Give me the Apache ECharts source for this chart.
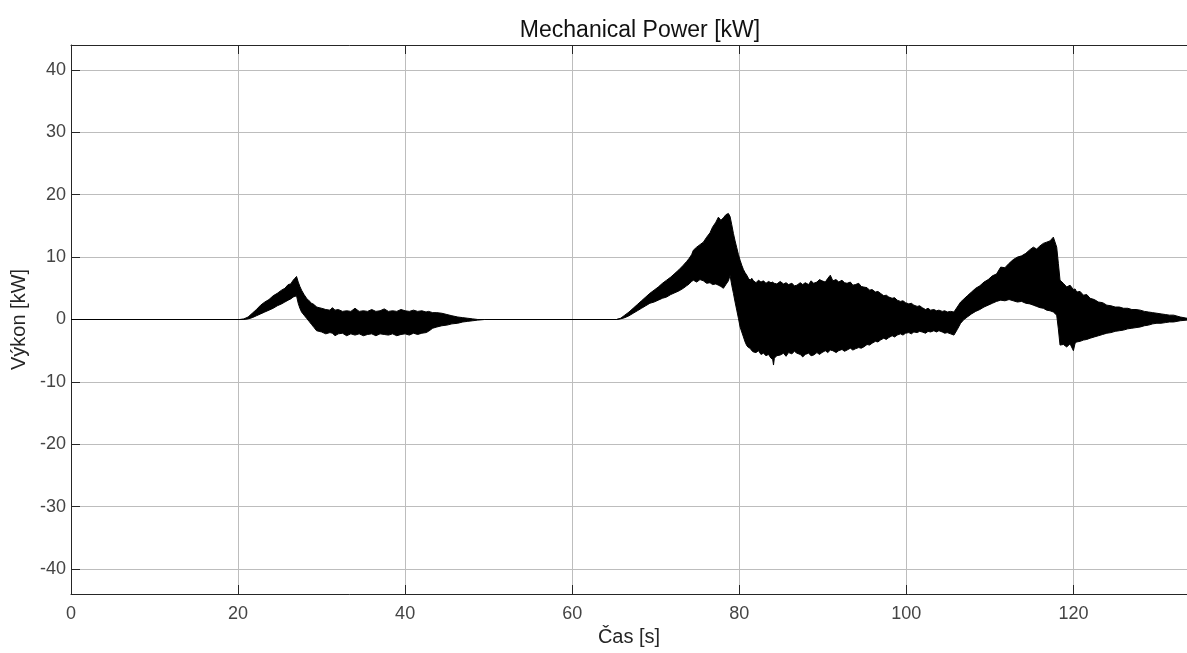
<!DOCTYPE html>
<html>
<head>
<meta charset="utf-8">
<script src="https://cdn.jsdelivr.net/npm/echarts@6/dist/echarts.min.js"></script>
<style>
html,body{margin:0;padding:0;background:#fff;}
#chart{width:1187px;height:653px;}
</style>
</head>
<body>
<div id="chart"></div>
<script>
// Envelope of the oscillating mechanical power, rows: [time s, upper kW, lower kW]
var burst1 = [
  [0,0,0],[20.2,0,0],[20.7,0.1,0],[21.2,0.4,0.1],[21.7,1.0,0.3],[22.2,1.6,0.6],[22.7,2.3,0.9],[23.2,2.8,1.2],
  [23.7,3.2,1.5],[24.2,3.8,1.8],[24.7,4.2,2.2],[25.2,4.7,2.5],[25.6,5.0,2.8],[26.0,5.6,3.1],[26.3,5.7,3.3],
  [26.6,6.3,3.6],[26.8,6.6,3.7],[27.0,6.9,3.8],[27.2,6.0,2.6],[27.4,5.3,1.8],[27.6,4.7,1.2],[27.9,4.0,0.7],
  [28.2,3.4,0.2],[28.5,3.0,-0.3],[28.8,2.6,-0.8],[29.1,2.4,-1.3],[29.4,2.0,-1.8],[29.7,1.9,-1.9],[30.0,1.8,-2.0],
  [30.5,1.6,-2.3],[31.0,1.5,-2.1],[31.3,1.9,-2.2],[31.6,1.5,-2.6],[32.0,1.6,-2.3],[32.5,1.3,-2.2],[33.0,1.4,-2.6],
  [33.5,1.3,-2.3],[34.0,1.8,-2.5],[34.5,1.3,-2.3],[35.0,1.4,-2.6],[35.5,1.3,-2.4],[36.0,1.6,-2.3],[36.5,1.3,-2.6],
  [37.0,1.4,-2.3],[37.5,1.7,-2.4],[38.0,1.3,-2.5],[38.5,1.4,-2.3],[39.0,1.3,-2.6],[39.5,1.6,-2.4],[40.0,1.4,-2.3],
  [40.5,1.3,-2.5],[41.0,1.5,-2.2],[41.5,1.3,-2.4],[42.0,1.4,-2.2],[42.5,1.2,-2.1],[42.8,1.3,-1.9],[43.3,1.1,-1.4],
  [43.8,1.1,-1.2],[44.4,1.0,-1.0],[45.0,0.8,-0.9],[45.6,0.6,-0.7],[46.3,0.4,-0.6],[46.9,0.3,-0.4],[47.5,0.2,-0.3],
  [48.1,0.1,-0.2],[48.7,0,-0.1],[49.5,0,0]
];
var burst2 = [
  [65.3,0,0],[65.8,0.2,0.1],[66.3,0.7,0.3],[66.8,1.2,0.6],[67.3,1.8,1.0],[67.8,2.4,1.4],[68.3,3.0,1.8],[68.8,3.6,2.2],
  [69.3,4.2,2.6],[69.8,4.7,2.8],[70.3,5.2,3.1],[70.8,5.8,3.4],[71.3,6.3,3.6],[71.8,6.8,4.0],[72.3,7.4,4.3],[72.8,8.0,4.6],
  [73.3,8.7,5.0],[73.7,9.3,5.4],[74.0,9.8,5.7],[74.3,10.4,6.1],[74.5,11.1,6.3],[74.9,11.6,6.0],[75.3,12.0,6.4],[75.7,12.4,6.2],
  [76.1,13.2,5.8],[76.5,13.9,5.9],[76.8,14.8,5.6],[77.2,15.6,5.7],[77.5,16.4,5.5],[77.8,15.9,5.3],[78.1,16.3,5.0],[78.4,16.8,5.6],
  [78.7,17.0,6.2],[78.9,16.5,7.1],[79.1,15.2,5.5],[79.3,13.8,4.2],[79.5,12.6,2.8],[79.7,11.5,1.5],[79.9,10.4,0.2],[80.1,9.5,-1.2],
  [80.3,8.7,-2.0],[80.5,8.0,-2.8],[80.7,7.5,-3.6],[80.9,7.1,-4.2],[81.1,6.6,-4.5],[81.3,6.3,-4.6],[81.5,6.6,-5.0],[81.7,6.2,-5.2],
  [82.0,5.9,-5.3],[82.3,6.3,-5.0],[82.6,6.0,-5.6],[82.9,6.2,-5.4],[83.2,5.8,-5.8],[83.5,6.1,-5.6],[83.8,5.9,-6.2],[84.0,6.0,-6.4],
  [84.1,5.9,-7.3],[84.2,5.8,-6.2],[84.5,5.7,-5.8],[84.9,6.1,-5.7],[85.3,5.7,-5.4],[85.6,5.9,-5.9],[85.9,5.6,-5.3],[86.3,5.8,-5.5],
  [86.6,5.4,-5.1],[86.9,5.5,-5.4],[87.3,5.9,-5.6],[87.6,5.6,-6.0],[87.9,5.9,-5.6],[88.3,5.6,-5.4],[88.6,6.2,-5.8],[88.9,5.8,-5.7],
  [89.3,6.0,-5.3],[89.6,6.4,-5.6],[89.9,6.2,-5.3],[90.3,6.0,-5.0],[90.6,6.6,-5.3],[90.9,7.1,-4.9],[91.2,6.2,-5.0],[91.6,6.4,-5.3],
  [91.9,6.0,-5.0],[92.3,6.3,-4.8],[92.6,5.9,-5.1],[92.9,5.8,-4.9],[93.3,6.0,-4.6],[93.6,5.5,-4.9],[93.9,5.6,-4.7],[94.3,5.8,-4.5],
  [94.6,5.3,-4.6],[94.9,5.2,-4.4],[95.3,5.1,-4.0],[95.6,4.7,-4.1],[95.9,4.8,-3.8],[96.3,4.4,-3.5],[96.6,4.5,-3.6],[96.9,4.2,-3.3],
  [97.3,3.8,-3.0],[97.6,3.9,-3.2],[97.9,3.6,-2.9],[98.3,3.4,-2.6],[98.6,3.5,-2.8],[98.9,3.1,-2.5],[99.3,2.9,-2.3],[99.6,3.0,-2.5],
  [99.9,2.7,-2.2],[100.3,2.5,-2.1],[100.6,2.6,-2.3],[100.9,2.3,-2.0],[101.3,2.1,-2.1],[101.6,2.2,-1.9],[101.9,1.9,-2.0],[102.3,1.6,-2.2],
  [102.6,1.8,-1.9],[102.9,1.5,-2.0],[103.3,1.6,-1.8],[103.6,1.4,-2.0],[103.9,1.5,-1.8],[104.3,1.3,-2.0],[104.6,1.4,-2.2],[104.9,1.2,-2.1],
  [105.3,1.3,-2.3],[105.7,1.2,-2.5]
];
var burst3 = [
  [106.1,2.0,-1.6],[106.5,2.8,-0.6],[106.9,3.3,0.0],[107.3,3.8,0.4],[107.8,4.4,0.9],[108.3,5.0,1.3],[108.8,5.4,1.6],[109.3,6.0,2.0],
  [109.8,6.4,2.3],[110.3,7.0,2.6],[110.8,7.3,2.9],[111.3,8.4,3.1],[111.8,8.3,3.0],[112.3,9.0,3.2],[112.8,9.6,3.0],[113.3,10.0,2.8],
  [113.8,10.2,2.9],[114.3,10.6,2.6],[114.8,11.2,2.5],[115.2,11.6,2.3],[115.6,11.3,2.1],[116.0,11.8,1.9],[116.4,12.2,1.8],[116.8,12.4,1.5],
  [117.2,12.6,1.4],[117.6,13.2,1.2],[118.0,11.6,0.7],[118.2,9.0,-1.5],[118.4,6.3,-4.1],[118.8,5.8,-4.0],[119.2,5.2,-4.4],[119.6,5.5,-3.9],
  [120.0,4.8,-5.0],[120.2,4.9,-3.8],[120.4,4.4,-3.6],[120.8,4.5,-3.5],[121.2,3.9,-3.3],[121.6,4.0,-3.2],[122.0,3.4,-3.0],[122.5,3.2,-2.8],
  [123.0,2.8,-2.6],[123.5,2.7,-2.4],[124.0,2.3,-2.2],[124.5,2.2,-2.1],[125.0,2.0,-1.9],[125.5,2.0,-1.8],[126.0,1.8,-1.7],[126.5,1.8,-1.5],
  [127.0,1.6,-1.4],[127.5,1.6,-1.3],[128.0,1.5,-1.2],[128.5,1.3,-1.0],[129.0,1.2,-0.9],[129.5,1.1,-0.7],[130.0,1.0,-0.6],[130.5,0.9,-0.6],
  [131.0,0.8,-0.5],[131.5,0.7,-0.4],[132.0,0.7,-0.4],[132.8,0.4,-0.2],[133.6,0.2,-0.1]
];
var yTicks = [-40,-30,-20,-10,0,10,20,30,40];
var xTicks = [0,20,40,60,80,100,120];

var envelope = burst1.concat(burst2, burst3);

var axisColor = '#262626';
var labelColor = '#444';
var gridColor = '#bdbdbd';
var fontFam = 'Liberation Sans, Arial, Helvetica, sans-serif';

function renderBand(params, api) {
  if (params.dataIndex !== 0) return;
  var pts = [];
  for (var i = 0; i < envelope.length; i++) pts.push(api.coord([envelope[i][0], envelope[i][1]]));
  for (var j = envelope.length - 1; j >= 0; j--) pts.push(api.coord([envelope[j][0], envelope[j][2]]));
  return {
    type: 'polygon',
    shape: {points: pts},
    style: {fill: '#000', stroke: '#000', lineWidth: 1}
  };
}

var chart = echarts.init(document.getElementById('chart'), null, {renderer:'canvas'});
chart.setOption({
  animation: false,
  backgroundColor: '#fff',
  title: {
    text: 'Mechanical Power [kW]',
    left: 635, top: 14, textAlign: 'center',
    textStyle: {fontFamily: fontFam, fontSize: 23, fontWeight: 'normal', color: '#111'}
  },
  grid: {left: 71, right: 0, top: 45, bottom: 59, containLabel: false, outerBoundsMode: 'none'},
  xAxis: [{
    type: 'value', min: 0, max: 133.6, interval: 20,
    position: 'bottom',
    name: 'Čas [s]', nameLocation: 'middle', nameGap: 29,
    nameTextStyle: {fontFamily: fontFam, fontSize: 20, color: axisColor},
    axisLine: {show: true, onZero: false, lineStyle: {color: axisColor, width: 1}},
    axisTick: {show: true, inside: true, length: 9, lineStyle: {color: axisColor}},
    axisLabel: {fontFamily: fontFam, fontSize: 18, color: labelColor, margin: 11, showMaxLabel: false},
    splitLine: {show: true, lineStyle: {color: gridColor, width: 1}}
  },{
    type: 'value', min: 0, max: 133.6, interval: 20,
    position: 'top',
    axisLine: {show: true, onZero: false, lineStyle: {color: axisColor, width: 1}},
    axisTick: {show: true, inside: true, length: 9, lineStyle: {color: axisColor}},
    axisLabel: {show: false},
    splitLine: {show: false}
  }],
  yAxis: [{
    type: 'value', min: -44, max: 44,
    name: 'Výkon [kW]', nameLocation: 'middle', nameGap: 38,
    nameTextStyle: {fontFamily: fontFam, fontSize: 20, color: axisColor},
    axisLine: {show: true, onZero: false, lineStyle: {color: axisColor, width: 1}},
    axisTick: {show: true, inside: true, length: 9, customValues: yTicks, lineStyle: {color: axisColor}},
    axisLabel: {fontFamily: fontFam, fontSize: 18, color: labelColor, margin: 5, customValues: yTicks},
    splitLine: {show: true, lineStyle: {color: gridColor, width: 1}}
  }],
  series: [{
    type: 'custom',
    name: 'Mechanical Power',
    renderItem: renderBand,
    data: [[envelope[0][0], envelope[0][1]]],
    clip: true,
    z: 3
  }]
});
</script>
</body>
</html>
